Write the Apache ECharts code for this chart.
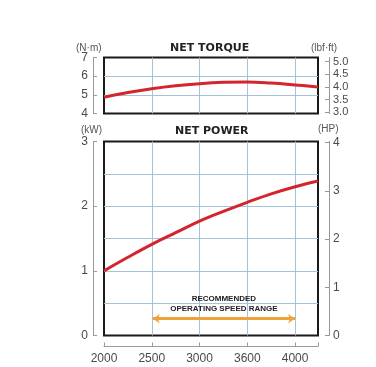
<!DOCTYPE html>
<html><head><meta charset="utf-8">
<script src="https://cdn.jsdelivr.net/npm/echarts@6/dist/echarts.min.js"></script>
<style>html,body{margin:0;padding:0;background:#fff}#c{width:376px;height:367px}</style>
</head><body><div id="c"></div>
<script>
// data
var rpm = [2000, 2250, 2500, 2750, 3000, 3250, 3500, 3750, 4000, 4240];
var torqueNm = [4.87, 5.12, 5.33, 5.49, 5.60, 5.67, 5.69, 5.63, 5.53, 5.42];
var powerKW = [1.00, 1.21, 1.41, 1.59, 1.77, 1.92, 2.06, 2.19, 2.30, 2.39];
var xTickValues = [2000, 2500, 3000, 3500, 4000];
var xTickLabels = ['2000', '2500', '3000', '3600', '4000'];
var lbfftTicks = [3.0, 3.5, 4.0, 4.5, 5.0];
var hpTicks = [0, 1, 2, 3, 4];
var rangeStart = 2510, rangeEnd = 4000, rangeLevel = 0.26;
var rangeText = 'RECOMMENDED\nOPERATING SPEED RANGE';
var NM_TO_LBFFT = 0.737562, KW_TO_HP = 1.34102;
var xMin = 2000, xMax = 4240;

var lab = {color: '#4a4a4a', fontSize: 11, fontFamily: 'Liberation Sans, Arial, sans-serif'};
var gridColor = '#a3c4d6';
var axisGray = '#999';
var split = {show: true, showMinLine: false, showMaxLine: false, lineStyle: {color: gridColor, width: 1}};

var chart = echarts.init(document.getElementById('c'), null, {renderer: 'canvas'});
function pairs(ys) { return rpm.map(function (x, i) { return [x, ys[i]]; }); }

chart.setOption({
  animation: false,
  backgroundColor: '#fff',
  grid: [
    {left: 104, top: 57.5, width: 214, height: 56, show: true, borderColor: '#1a1a1a', borderWidth: 2, backgroundColor: 'transparent'},
    {left: 104, top: 141.5, width: 214, height: 194, show: true, borderColor: '#1a1a1a', borderWidth: 2, backgroundColor: 'transparent'}
  ],
  graphic: [
    {type: 'text', left: 170, top: 43, style: {text: 'NET TORQUE', font: 'bold 11px "DejaVu Sans", sans-serif', fill: '#222'}},
    {type: 'text', left: 175, top: 126, style: {text: 'NET POWER', font: 'bold 11px "DejaVu Sans", sans-serif', fill: '#222'}},
    {type: 'text', left: 76, top: 43, style: {text: '(N·m)', font: '10px "Liberation Sans", Arial, sans-serif', fill: '#555'}},
    {type: 'text', left: 311, top: 43, style: {text: '(lbf·ft)', font: '10px "Liberation Sans", Arial, sans-serif', fill: '#555'}},
    {type: 'text', left: 81, top: 125, style: {text: '(kW)', font: '10px "Liberation Sans", Arial, sans-serif', fill: '#555'}},
    {type: 'text', left: 318, top: 124, style: {text: '(HP)', font: '10px "Liberation Sans", Arial, sans-serif', fill: '#555'}}
  ],
  xAxis: [
    {gridIndex: 0, type: 'value', min: xMin, max: xMax, interval: 500,
     axisLine: {show: false}, axisTick: {show: false}, axisLabel: {show: false}, splitLine: split},
    {gridIndex: 1, type: 'value', min: xMin, max: xMax, interval: 500,
     axisLine: {show: false}, axisTick: {show: false}, axisLabel: {show: false}, splitLine: split},
    {gridIndex: 1, type: 'value', min: xMin, max: xMax, position: 'bottom', offset: 11,
     axisLine: {show: true, onZero: false, lineStyle: {color: axisGray, width: 1}},
     axisTick: {show: true, inside: true, length: 4, lineStyle: {color: axisGray}, customValues: xTickValues.concat([xMax])},
     axisLabel: Object.assign({margin: 6, customValues: xTickValues,
       formatter: function (v) { var i = xTickValues.indexOf(v); return i >= 0 ? xTickLabels[i] : ''; }}, lab, {fontSize: 12}),
     splitLine: {show: false}}
  ],
  yAxis: [
    {gridIndex: 0, type: 'value', min: 4, max: 7, interval: 1, position: 'left', offset: 11,
     axisLine: {show: true, onZero: false, lineStyle: {color: axisGray}},
     axisTick: {show: true, inside: true, length: 4, lineStyle: {color: axisGray}},
     axisLabel: Object.assign({margin: 5}, lab, {fontSize: 12}),
     splitLine: split},
    {gridIndex: 0, type: 'value', min: 4 * NM_TO_LBFFT, max: 7 * NM_TO_LBFFT, position: 'right', offset: 11,
     axisLine: {show: true, onZero: false, lineStyle: {color: axisGray}},
     axisTick: {show: true, inside: true, length: 4, lineStyle: {color: axisGray}, customValues: lbfftTicks},
     axisLabel: Object.assign({margin: 4, customValues: lbfftTicks, formatter: function (v) { return v.toFixed(1); }}, lab),
     splitLine: {show: false}},
    {gridIndex: 1, type: 'value', min: 0, max: 3, interval: 1, position: 'left', offset: 11,
     axisLine: {show: true, onZero: false, lineStyle: {color: axisGray}},
     axisTick: {show: true, inside: true, length: 4, lineStyle: {color: axisGray}},
     axisLabel: Object.assign({margin: 5}, lab, {fontSize: 12}),
     splitLine: {show: false}},
    {gridIndex: 1, type: 'value', min: 0, max: 3 * KW_TO_HP, position: 'right', offset: 11,
     axisLine: {show: true, onZero: false, lineStyle: {color: axisGray}},
     axisTick: {show: true, inside: true, length: 4, lineStyle: {color: axisGray}, customValues: hpTicks},
     axisLabel: Object.assign({margin: 4, customValues: hpTicks}, lab, {fontSize: 12}),
     splitLine: {show: false}},
    {gridIndex: 1, type: 'value', min: 0, max: 3, interval: 0.5, show: true,
     axisLine: {show: false}, axisTick: {show: false}, axisLabel: {show: false}, splitLine: split}
  ],
  series: [
    {type: 'line', xAxisIndex: 0, yAxisIndex: 0, data: pairs(torqueNm), smooth: 0.4, symbol: 'none',
     lineStyle: {color: '#d4242c', width: 3}, z: 5},
    {type: 'line', xAxisIndex: 1, yAxisIndex: 2, data: pairs(powerKW), smooth: 0.4, symbol: 'none',
     lineStyle: {color: '#d4242c', width: 3}, z: 5,
     markLine: {silent: true, symbol: ['arrow', 'arrow'], symbolSize: [7, 7], animation: false,
       lineStyle: {color: '#f0a33a', width: 3, type: 'solid'},
       label: {show: true, position: 'middle', distance: 5, formatter: rangeText,
         fontSize: 8, fontWeight: 'bold', lineHeight: 10, color: '#222',
         fontFamily: '"Liberation Sans Narrow", "Liberation Sans", sans-serif'},
       data: [[{coord: [rangeStart, rangeLevel]}, {coord: [rangeEnd, rangeLevel]}]]}}
  ]
});
</script></body></html>
